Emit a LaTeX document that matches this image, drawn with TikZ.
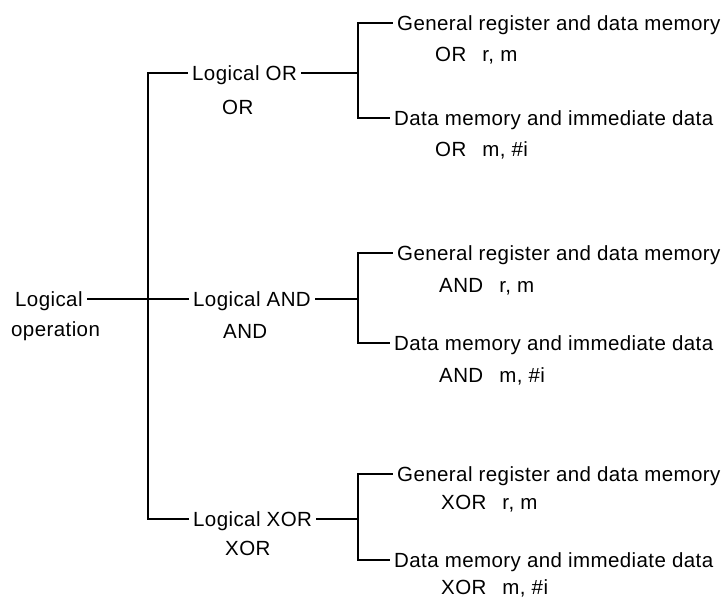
\documentclass[tikz,border=0pt]{standalone}
\usepackage{fontspec}
\setmainfont{Liberation Sans}[LetterSpace=2]
\begin{document}
\begin{tikzpicture}[x=1pt,y=-1pt,
  lbl/.style={inner xsep=5pt, inner ysep=0pt, text height=14.7pt, text depth=0pt,
    font=\fontsize{20.5}{24}\selectfont, anchor=west},
  conn/.style={line width=1.4pt, line cap=rect}]
\useasboundingbox (0,0) rectangle (727,599);
% root
\node[lbl] (root) at (10,299) {Logical};
\node[lbl] (rootb) at (6,329) {operation};
% trunk coordinates
\coordinate (tOR) at (148,73);
\coordinate (tXOR) at (148,519);
% second level
\node[lbl] (lor) at (187,73) {Logical OR};
\node[lbl] (ora) at (217,107) {OR};
\node[lbl] (land) at (188,299) {Logical AND};
\node[lbl] (anda) at (218,331) {AND};
\node[lbl] (lxor) at (188,519) {Logical XOR};
\node[lbl] (xora) at (220,548) {XOR};
% bracket joints
\coordinate (bOR) at (358,73);
\coordinate (bAND) at (358,299);
\coordinate (bXOR) at (358,519);
% leaves OR
\node[lbl] (gor) at (392,23) {General register and data memory};
\node[lbl] (gorc) at (430,54) {OR\hspace{16pt}r, m};
\node[lbl] (dor) at (389,118) {Data memory and immediate data};
\node[lbl] (dorc) at (430,149) {OR\hspace{16pt}m, \#i};
% leaves AND
\node[lbl] (gand) at (392,253) {General register and data memory};
\node[lbl] (gandc) at (434,285) {AND\hspace{16pt}r, m};
\node[lbl] (dand) at (389,343) {Data memory and immediate data};
\node[lbl] (dandc) at (434,375) {AND\hspace{16pt}m, \#i};
% leaves XOR
\node[lbl] (gxor) at (392,474) {General register and data memory};
\node[lbl] (gxorc) at (436,502) {XOR\hspace{16pt}r, m};
\node[lbl] (dxor) at (389,560) {Data memory and immediate data};
\node[lbl] (dxorc) at (436,587) {XOR\hspace{16pt}m, \#i};
% connectors
\draw[conn] (lor.west) -- (tOR) -- (tXOR) -- (lxor.west);
\draw[conn] (root.east) -- (land.west);
\draw[conn] (lor.east) -- (bOR);
\draw[conn] (land.east) -- (bAND);
\draw[conn] (lxor.east) -- (bXOR);
\draw[conn] (gor.west) -| (bOR) |- (dor.west);
\draw[conn] (gand.west) -| (bAND) |- (dand.west);
\draw[conn] (gxor.west) -| (bXOR) |- (dxor.west);
\end{tikzpicture}
\end{document}
